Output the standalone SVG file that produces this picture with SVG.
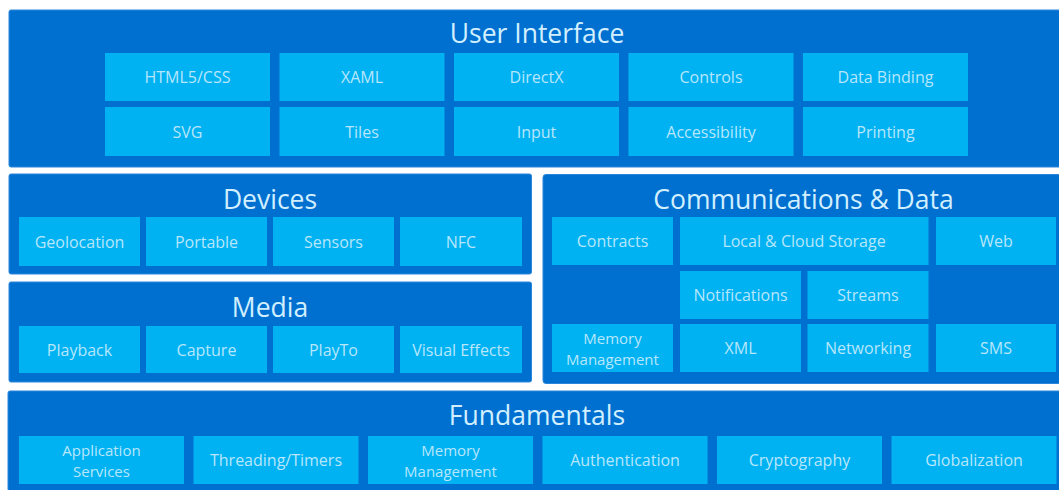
<svg xmlns="http://www.w3.org/2000/svg" width="1059" height="490" viewBox="0 0 1059 490">
<style>
.panel{fill:#0070d0;stroke:#2a86dc;stroke-width:1}
.tile{fill:#00b2f2}
.title{font-family:"Open Sans","Noto Sans",sans-serif;font-size:26.5px;fill:#d2efff;text-anchor:middle}
.lbl{font-family:"Open Sans","Noto Sans",sans-serif;font-size:16px;fill:#b8e6fc;text-anchor:middle;dominant-baseline:central}
.lbl2{font-size:15px}
</style>
<rect x="0" y="0" width="1059" height="490" fill="#ffffff"/>
<g id="connectors"></g>

<g id="user-interface">
<rect class="panel" x="9" y="10" width="1052" height="157" rx="2"/>
<text class="title" x="537" y="43">User Interface</text>
</g>
<g id="ui-html5css"><rect class="tile" x="105" y="53" width="165" height="48"/><text class="lbl" x="187.5" y="77">HTML5/CSS</text></g>
<g id="ui-xaml"><rect class="tile" x="279.5" y="53" width="165" height="48"/><text class="lbl" x="362" y="77">XAML</text></g>
<g id="ui-directx"><rect class="tile" x="454" y="53" width="165" height="48"/><text class="lbl" x="536.5" y="77">DirectX</text></g>
<g id="ui-controls"><rect class="tile" x="628.5" y="53" width="165" height="48"/><text class="lbl" x="711" y="77">Controls</text></g>
<g id="ui-databinding"><rect class="tile" x="803" y="53" width="165" height="48"/><text class="lbl" x="885.5" y="77">Data Binding</text></g>
<g id="ui-svg"><rect class="tile" x="105" y="107" width="165" height="49"/><text class="lbl" x="187.5" y="131.5">SVG</text></g>
<g id="ui-tiles"><rect class="tile" x="279.5" y="107" width="165" height="49"/><text class="lbl" x="362" y="131.5">Tiles</text></g>
<g id="ui-input"><rect class="tile" x="454" y="107" width="165" height="49"/><text class="lbl" x="536.5" y="131.5">Input</text></g>
<g id="ui-accessibility"><rect class="tile" x="628.5" y="107" width="165" height="49"/><text class="lbl" x="711" y="131.5">Accessibility</text></g>
<g id="ui-printing"><rect class="tile" x="803" y="107" width="165" height="49"/><text class="lbl" x="885.5" y="131.5">Printing</text></g>

<g id="devices">
<rect class="panel" x="9" y="174" width="522.5" height="100" rx="2"/>
<text class="title" x="270" y="209">Devices</text>
</g>
<g id="dev-geolocation"><rect class="tile" x="19" y="217" width="121" height="49"/><text class="lbl" x="79.5" y="241.5">Geolocation</text></g>
<g id="dev-portable"><rect class="tile" x="146" y="217" width="121" height="49"/><text class="lbl" x="206.5" y="241.5">Portable</text></g>
<g id="dev-sensors"><rect class="tile" x="273" y="217" width="121" height="49"/><text class="lbl" x="333.5" y="241.5">Sensors</text></g>
<g id="dev-nfc"><rect class="tile" x="400" y="217" width="122" height="49"/><text class="lbl" x="461" y="241.5">NFC</text></g>

<g id="media">
<rect class="panel" x="9" y="282" width="522.5" height="100" rx="2"/>
<text class="title" x="270" y="317">Media</text>
</g>
<g id="med-playback"><rect class="tile" x="19" y="326" width="121" height="47"/><text class="lbl" x="79.5" y="349.5">Playback</text></g>
<g id="med-capture"><rect class="tile" x="146" y="326" width="121" height="47"/><text class="lbl" x="206.5" y="349.5">Capture</text></g>
<g id="med-playto"><rect class="tile" x="273" y="326" width="121" height="47"/><text class="lbl" x="333.5" y="349.5">PlayTo</text></g>
<g id="med-visualeffects"><rect class="tile" x="400" y="326" width="122" height="47"/><text class="lbl" x="461" y="349.5">Visual Effects</text></g>

<g id="communications-data">
<rect class="panel" x="543" y="174.5" width="518" height="209" rx="3"/>
<text class="title" x="803.5" y="209">Communications &amp; Data</text>
</g>
<g id="cd-contracts"><rect class="tile" x="552" y="217" width="121" height="48"/><text class="lbl" x="612.5" y="241">Contracts</text></g>
<g id="cd-storage"><rect class="tile" x="680" y="217" width="248.5" height="48"/><text class="lbl" x="804" y="241">Local &amp; Cloud Storage</text></g>
<g id="cd-web"><rect class="tile" x="936" y="217" width="120" height="48"/><text class="lbl" x="996" y="241">Web</text></g>
<g id="cd-notifications"><rect class="tile" x="680" y="271" width="121" height="48"/><text class="lbl" x="740.5" y="295">Notifications</text></g>
<g id="cd-streams"><rect class="tile" x="807.5" y="271" width="121" height="48"/><text class="lbl" x="868" y="295">Streams</text></g>
<g id="cd-memory"><rect class="tile" x="552" y="324" width="121" height="48"/><text class="lbl lbl2" x="612.5" y="337.5">Memory</text><text class="lbl lbl2" x="612.5" y="358.5">Management</text></g>
<g id="cd-xml"><rect class="tile" x="680" y="324" width="121" height="48"/><text class="lbl" x="740.5" y="348">XML</text></g>
<g id="cd-networking"><rect class="tile" x="807.5" y="324" width="121" height="48"/><text class="lbl" x="868" y="348">Networking</text></g>
<g id="cd-sms"><rect class="tile" x="936" y="324" width="120" height="48"/><text class="lbl" x="996" y="348">SMS</text></g>

<g id="fundamentals">
<rect class="panel" x="8" y="391" width="1053" height="100" rx="2"/>
<text class="title" x="537" y="425">Fundamentals</text>
</g>
<g id="fu-appservices"><rect class="tile" x="19" y="436" width="165" height="48"/><text class="lbl lbl2" x="101.5" y="449.5">Application</text><text class="lbl lbl2" x="101.5" y="470.5">Services</text></g>
<g id="fu-threading"><rect class="tile" x="193.5" y="436" width="165" height="48"/><text class="lbl" x="276" y="460">Threading/Timers</text></g>
<g id="fu-memory"><rect class="tile" x="368" y="436" width="165" height="48"/><text class="lbl lbl2" x="450.5" y="449.5">Memory</text><text class="lbl lbl2" x="450.5" y="470.5">Management</text></g>
<g id="fu-authentication"><rect class="tile" x="542.5" y="436" width="165" height="48"/><text class="lbl" x="625" y="460">Authentication</text></g>
<g id="fu-cryptography"><rect class="tile" x="717" y="436" width="165" height="48"/><text class="lbl" x="799.5" y="460">Cryptography</text></g>
<g id="fu-globalization"><rect class="tile" x="891.5" y="436" width="165" height="48"/><text class="lbl" x="974" y="460">Globalization</text></g>
</svg>
